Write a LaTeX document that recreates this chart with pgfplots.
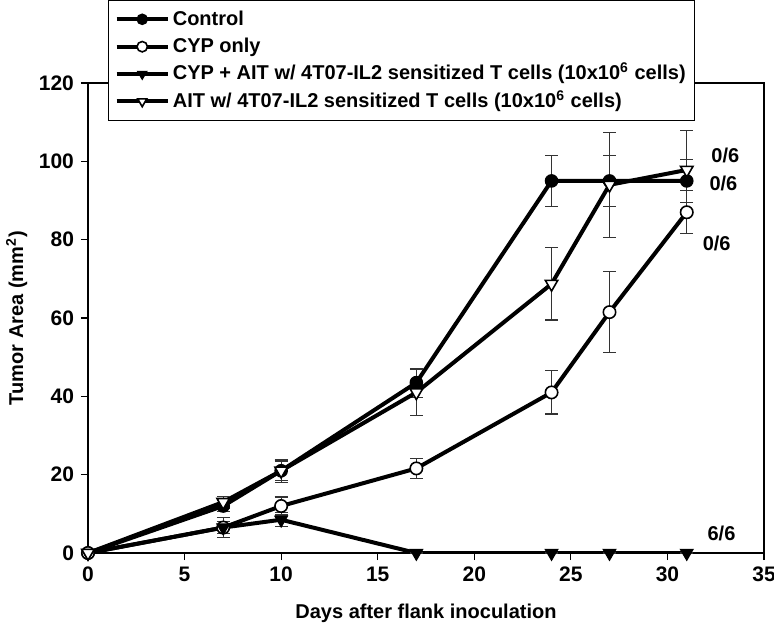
\documentclass[border=0pt]{standalone}
\usepackage{fontspec}
\setmainfont{Liberation Sans}
\usepackage{pgfplots}
\pgfplotsset{compat=1.18}
\usetikzlibrary{calc}

% days, mean area, sem
\pgfplotstableread{
x y e
0 0 0
7 12 1.5
10 21 2.5
17 43.5 3.7
24 95 6.5
27 95 6.5
31 95 5.5
}\control
\pgfplotstableread{
x y e
0 0 0
7 6.5 1.5
10 12 2.3
17 21.6 2.5
24 41 5.5
27 61.5 10.4
31 87 5.5
}\cyp
\pgfplotstableread{
x y e
0 0 0
7 6.5 2.5
10 8.5 1.8
17 0 0
24 0 0
27 0 0
31 0 0
}\cypait
\pgfplotstableread{
x y e
0 0 0
7 13 1.5
10 21 2.9
17 41 5.8
24 68.7 9.2
27 94 13.4
31 97.8 10
}\ait

\begin{document}
\begin{tikzpicture}
\begin{axis}[
  width=338pt, height=235pt, scale only axis,
  xmin=0, xmax=35, ymin=0, ymax=120,
  xtick={0,5,...,35}, ytick={0,20,...,120},
  tick align=outside, tick pos=left,
  major tick length=3.5pt,
  axis line style={line width=0.6pt},
  tick style={line width=0.6pt, black},
  /pgf/number format/assume math mode=true,
  ticklabel style={font=\fontsize{10.5}{12}\selectfont\bfseries},
  xlabel={Days after flank inoculation},
  ylabel={Tumor Area (mm\textsuperscript{2})},
  label style={font=\fontsize{10}{12}\selectfont\bfseries},
  xlabel style={yshift=-4pt},
  ylabel style={yshift=-1pt},
  every axis plot/.append style={line width=2pt, black},
  error bars/y dir=both, error bars/y explicit,
  error bars/error bar style={line width=0.6pt, black!80},
  error bars/error mark options={mark size=3.2pt, line width=0.6pt, black!80, rotate=90},
  legend cell align=left,
  legend style={at={(0.0296,1.1766)}, anchor=north west, draw=black, line width=0.6pt,
    fill=white, font=\fontsize{10}{12}\selectfont\bfseries, row sep=0pt,
    inner xsep=3pt, inner ysep=2.5pt,
    nodes={inner sep=1.5pt, text height=8.3pt, text depth=2.4pt}},
  legend image code/.code={\draw[mark repeat=2, mark phase=2, mark size=2.6pt] plot coordinates {(0cm,0cm) (0.45cm,0cm) (0.9cm,0cm)};},
]
\coordinate (lb) at (rel axis cs:0,0);
\coordinate (rt) at (rel axis cs:1,1);
\addplot[mark=*, mark size=3.1pt, mark options={solid, fill=black, line width=0.6pt}] table[x=x, y=y, y error=e] {\control};
\addlegendentry{Control}
\addplot[mark=*, mark size=3.1pt, mark options={solid, fill=white, line width=0.8pt}] table[x=x, y=y, y error=e] {\cyp};
\addlegendentry{CYP only}
\addplot[mark=triangle*, mark size=3.6pt, mark options={solid, rotate=180, fill=black, line width=0.6pt}] table[x=x, y=y, y error=e] {\cypait};
\addlegendentry{CYP + AIT w/ 4T07-IL2 sensitized T cells (10x10\textsuperscript{6} cells)}
\addplot[mark=triangle*, mark size=3.6pt, mark options={solid, rotate=180, fill=white, line width=0.8pt}] table[x=x, y=y, y error=e] {\ait};
\addlegendentry{AIT w/ 4T07-IL2 sensitized T cells (10x10\textsuperscript{6} cells)}
\node[font=\fontsize{10}{12}\selectfont\bfseries] at (axis cs:33.0,101.5) {0/6};
\node[font=\fontsize{10}{12}\selectfont\bfseries] at (axis cs:32.9,94.3) {0/6};
\node[font=\fontsize{10}{12}\selectfont\bfseries] at (axis cs:32.55,79) {0/6};
\node[font=\fontsize{10}{12}\selectfont\bfseries] at (axis cs:32.8,5.1) {6/6};
\end{axis}
\pgfresetboundingbox
\path[use as bounding box] ($(lb)+(-44pt,-40pt)$) rectangle ($(rt)+(5pt,41.5pt)$);
\end{tikzpicture}
\end{document}
